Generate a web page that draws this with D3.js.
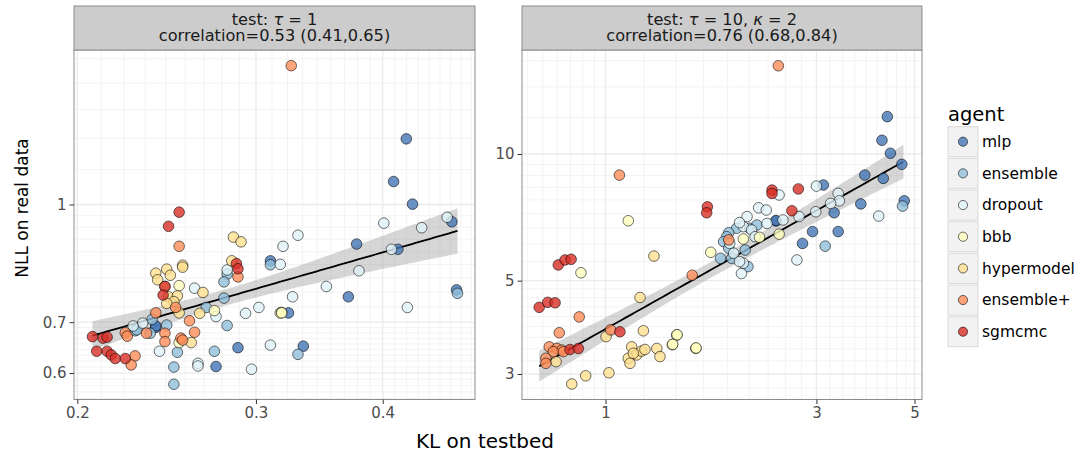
<!DOCTYPE html>
<html>
<head>
<meta charset="utf-8">
<script src="https://cdn.jsdelivr.net/npm/d3@7"></script>
<style>
body { margin: 0; background: #fff; }
text { font-family: "DejaVu Sans", sans-serif; }
</style>
</head>
<body>
<svg id="vis" width="1084" height="457"></svg>
<script>
// agents and colours
var agents = ["mlp", "ensemble", "dropout", "bbb", "hypermodel", "ensemble+", "sgmcmc"];
var agentColors = ["#4575b4", "#91bfdb", "#e0f3f8", "#ffffbf", "#fee090", "#fc8d59", "#d73027"];

// facet titles
var stripLine1 = [["test: ", "τ", " = 1"], ["test: ", "τ", " = 10, ", "κ", " = 2"]];
var stripLine2 = ["correlation=0.53 (0.41,0.65)", "correlation=0.76 (0.68,0.84)"];

// tick labels
var leftXTicks = [0.2, 0.3, 0.4];
var leftYTicks = [0.6, 0.7, 1];
var rightXTicks = [1, 3, 5];
var rightYTicks = [3, 5, 10];

// panel 1: test tau = 1   [KL on testbed, NLL on real data]
var t1_mlp = [[0.422,1.220],[0.410,1.072],[0.428,1.001],[0.468,0.949],[0.377,0.887],[0.414,0.873],[0.310,0.843],[0.473,0.772],[0.370,0.756],[0.323,0.720],[0.239,0.689],[0.239,0.692],[0.274,0.612],[0.288,0.648],[0.334,0.651]];
var t1_ensemble = [[0.310,0.833],[0.281,0.810],[0.279,0.791],[0.474,0.764],[0.279,0.753],[0.268,0.732],[0.281,0.693],[0.237,0.706],[0.236,0.677],[0.228,0.682],[0.229,0.684],[0.245,0.694],[0.251,0.639],[0.249,0.611],[0.249,0.580],[0.273,0.641],[0.330,0.635]];
var t1_dropout = [[0.401,0.945],[0.437,0.932],[0.463,0.962],[0.330,0.911],[0.319,0.881],[0.408,0.873],[0.317,0.834],[0.281,0.820],[0.379,0.818],[0.352,0.780],[0.261,0.776],[0.326,0.756],[0.274,0.712],[0.293,0.719],[0.302,0.732],[0.423,0.732],[0.232,0.698],[0.227,0.692],[0.241,0.641],[0.263,0.618],[0.263,0.613],[0.310,0.653],[0.297,0.607]];
var t1_bbb = [[0.252,0.782],[0.273,0.725],[0.317,0.720],[0.318,0.721],[0.318,0.720],[0.252,0.658]];
var t1_hypermodel = [[0.285,0.906],[0.290,0.893],[0.254,0.832],[0.254,0.827],[0.284,0.843],[0.239,0.812],[0.245,0.822],[0.247,0.807],[0.240,0.796],[0.244,0.780],[0.266,0.766],[0.246,0.756],[0.251,0.758],[0.249,0.745],[0.245,0.741],[0.252,0.720],[0.264,0.719],[0.259,0.658]];
var t1_ensemble_plus = [[0.325,1.523],[0.252,0.881],[0.288,0.803],[0.250,0.732],[0.239,0.720],[0.223,0.678],[0.224,0.671],[0.234,0.677],[0.244,0.677],[0.244,0.660],[0.258,0.703],[0.261,0.679],[0.253,0.667],[0.254,0.663],[0.228,0.632],[0.226,0.615]];
var t1_sgmcmc = [[0.252,0.977],[0.246,0.936],[0.287,0.836],[0.288,0.823],[0.244,0.780],[0.243,0.760],[0.207,0.670],[0.212,0.667],[0.214,0.669],[0.209,0.641],[0.214,0.641],[0.216,0.634],[0.218,0.627],[0.223,0.627]];
// fitted line ends
var t1_fit = [[0.207, 0.672], [0.474, 0.923]];

// panel 2: test tau = 10, kappa = 2
var t10_mlp = [[4.34,12.27],[4.22,10.78],[4.41,10.04],[4.68,9.45],[3.86,8.91],[4.25,8.75],[3.11,8.44],[4.74,7.74],[3.78,7.61],[3.29,7.25],[2.43,6.93],[2.43,6.95],[2.94,6.54],[3.36,6.54],[2.79,6.13]];
var t10_ensemble = [[4.70,7.52],[3.14,6.04],[1.98,6.66],[1.90,6.50],[1.88,6.36],[1.85,6.19],[1.90,5.97],[1.82,5.65],[1.93,5.65],[2.10,5.40],[2.12,6.66],[2.20,6.78],[2.07,5.91]];
var t10_dropout = [[2.32,6.84],[2.05,6.72],[1.91,6.13],[1.95,5.81],[2.05,5.50],[2.14,6.60],[2.18,6.36],[2.47,7.99],[3.00,8.39],[3.36,8.06],[3.38,7.74],[3.23,7.63],[4.15,7.12],[2.22,7.45],[2.31,7.36],[2.99,7.29],[2.74,7.10],[2.52,6.97],[2.09,7.10],[2.01,6.87],[2.71,5.60],[2.03,5.20],[2.01,5.55]];
var t10_bbb = [[1.126,6.94],[2.47,6.45],[2.05,6.28],[2.23,6.34],[1.73,5.84],[0.880,5.22],[1.449,3.71],[1.452,3.72],[1.416,3.52],[1.419,3.53],[1.600,3.45],[1.603,3.46]];
var t10_hypermodel = [[1.287,5.72],[1.197,4.56],[1.003,3.68],[1.218,3.80],[1.146,3.48],[1.176,3.33],[1.207,3.40],[1.228,3.43],[1.126,3.27],[1.136,3.18],[1.306,3.45],[1.328,3.30],[1.156,3.36],[0.773,3.21],[0.839,2.84],[0.902,2.97],[1.018,3.02]];
var t10_ensemble_plus = [[2.46,16.21],[1.075,8.91],[1.90,6.25],[1.571,5.15],[0.872,4.10],[0.786,3.76],[1.027,3.82],[0.746,3.48],[0.776,3.45],[0.796,3.42],[0.762,3.39],[0.803,3.39],[0.733,3.27],[0.733,3.18]];
var t10_sgmcmc = [[2.38,8.21],[2.38,8.06],[2.73,8.26],[1.70,7.49],[1.694,7.25],[2.64,7.33],[0.782,5.45],[0.810,5.60],[0.836,5.62],[0.708,4.32],[0.740,4.44],[0.769,4.43],[1.078,3.78],[0.831,3.43],[0.868,3.45]];
var t10_fit = [[0.708, 3.13], [4.72, 9.59]];

var t1_groups = [t1_mlp, t1_ensemble, t1_dropout, t1_bbb, t1_hypermodel, t1_ensemble_plus, t1_sgmcmc];
var t10_groups = [t10_mlp, t10_ensemble, t10_dropout, t10_bbb, t10_hypermodel, t10_ensemble_plus, t10_sgmcmc];

var svg = d3.select("#vis");
var color = d3.scaleOrdinal().domain(agents).range(agentColors);

var panelTop = 50, panelBottom = 399.5, stripTop = 6;

var panels = [
    {groups: t1_groups, fit: t1_fit, xDomain: [0.1985, 0.4932], yDomain: [0.5538, 1.597], left: 74, right: 475,
     xTicks: leftXTicks, yTicks: leftYTicks, xGrid: [0.1, 0.2, 0.3, 0.4, 0.5], yGrid: [0.5, 0.6, 0.7, 1, 2]},
    {groups: t10_groups, fit: t10_fit, xDomain: [0.6473, 5.199], yDomain: [2.609, 17.67], left: 522, right: 922,
     xTicks: rightXTicks, yTicks: rightYTicks, xGrid: [0.5, 1, 3, 5, 10], yGrid: [1, 3, 5, 10, 30]}
];

// minor lines: 8 evenly spaced values between each pair of majors
function minorLines(majors) {
    var out = [];
    for (var i = 0; i < majors.length - 1; i++) {
        var a = majors[i], b = majors[i + 1];
        for (var k = 1; k < 9; k++) out.push(a + (b - a) * k / 9);
    }
    return out;
}

// line through the read fit ends (log-log), 95% band from the points around it
function fitBand(points, fit) {
    var xs = points.map(function(p) { return Math.log(p[0]); });
    var ys = points.map(function(p) { return Math.log(p[1]); });
    var n = xs.length;
    var lx0 = Math.log(fit[0][0]), lx1 = Math.log(fit[1][0]);
    var ly0 = Math.log(fit[0][1]), ly1 = Math.log(fit[1][1]);
    var b = (ly1 - ly0) / (lx1 - lx0), a = ly0 - b * lx0;
    var mx = d3.mean(xs);
    var sxx = d3.sum(xs, function(x) { return (x - mx) * (x - mx); });
    var sse = d3.sum(xs, function(x, i) { var r = ys[i] - a - b * x; return r * r; });
    var s = Math.sqrt(sse / (n - 2));
    var t = 1.984;
    var out = [];
    for (var j = 0; j <= 80; j++) {
        var x = lx0 + (lx1 - lx0) * j / 80;
        var yhat = a + b * x;
        var se = s * Math.sqrt(1 / n + (x - mx) * (x - mx) / sxx);
        out.push({x: Math.exp(x), y: Math.exp(yhat), y0: Math.exp(yhat - t * se), y1: Math.exp(yhat + t * se)});
    }
    return out;
}

panels.forEach(function(p, pi) {
    var x = d3.scaleLog().domain(p.xDomain).range([p.left, p.right]);
    var y = d3.scaleLog().domain(p.yDomain).range([panelBottom, panelTop]);
    var g = svg.append("g");
    var clipId = "clip" + pi;
    g.append("clipPath").attr("id", clipId).append("rect")
        .attr("x", p.left).attr("y", panelTop).attr("width", p.right - p.left).attr("height", panelBottom - panelTop);

    var grid = g.append("g").attr("clip-path", "url(#" + clipId + ")");
    grid.selectAll(".vminor").data(minorLines(p.xGrid)).enter().append("line")
        .attr("x1", function(d) { return x(d); }).attr("x2", function(d) { return x(d); })
        .attr("y1", panelTop).attr("y2", panelBottom)
        .attr("stroke", "#f3f3f3").attr("stroke-width", 1);
    grid.selectAll(".hminor").data(minorLines(p.yGrid)).enter().append("line")
        .attr("y1", function(d) { return y(d); }).attr("y2", function(d) { return y(d); })
        .attr("x1", p.left).attr("x2", p.right)
        .attr("stroke", "#f3f3f3").attr("stroke-width", 1);
    grid.selectAll(".vmajor").data(p.xTicks).enter().append("line")
        .attr("x1", function(d) { return x(d); }).attr("x2", function(d) { return x(d); })
        .attr("y1", panelTop).attr("y2", panelBottom)
        .attr("stroke", "#ebebeb").attr("stroke-width", 1.3);
    grid.selectAll(".hmajor").data(p.yTicks).enter().append("line")
        .attr("y1", function(d) { return y(d); }).attr("y2", function(d) { return y(d); })
        .attr("x1", p.left).attr("x2", p.right)
        .attr("stroke", "#ebebeb").attr("stroke-width", 1.3);

    // smooth
    var all = [];
    p.groups.forEach(function(arr) { all = all.concat(arr); });
    var band = fitBand(all, p.fit);
    g.append("path").datum(band)
        .attr("fill", "#999999").attr("fill-opacity", 0.4)
        .attr("d", d3.area().x(function(d) { return x(d.x); })
            .y0(function(d) { return y(d.y0); }).y1(function(d) { return y(d.y1); }));
    g.append("path").datum(band)
        .attr("fill", "none").attr("stroke", "#000").attr("stroke-width", 1.8)
        .attr("d", d3.line().x(function(d) { return x(d.x); }).y(function(d) { return y(d.y); }));

    // points
    var pts = [];
    p.groups.forEach(function(arr, ai) {
        arr.forEach(function(d) { pts.push({x: d[0], y: d[1], agent: agents[ai]}); });
    });
    g.append("g").attr("clip-path", "url(#" + clipId + ")")
        .selectAll("circle").data(pts).enter().append("circle")
        .attr("cx", function(d) { return x(d.x); })
        .attr("cy", function(d) { return y(d.y); })
        .attr("r", 5.3)
        .attr("fill", function(d) { return color(d.agent); })
        .attr("fill-opacity", 0.8)
        .attr("stroke", "#000").attr("stroke-opacity", 0.7).attr("stroke-width", 0.8);

    // border
    g.append("rect").attr("x", p.left).attr("y", panelTop)
        .attr("width", p.right - p.left).attr("height", panelBottom - panelTop)
        .attr("fill", "none").attr("stroke", "#8c8c8c").attr("stroke-width", 1);

    // strip
    g.append("rect").attr("x", p.left).attr("y", stripTop)
        .attr("width", p.right - p.left).attr("height", panelTop - stripTop)
        .attr("fill", "#cccccc").attr("stroke", "#8c8c8c").attr("stroke-width", 1);
    var cx = (p.left + p.right) / 2;
    var t1 = g.append("text").attr("x", cx).attr("y", 25).attr("text-anchor", "middle")
        .attr("font-size", 16.2).attr("fill", "#1a1a1a");
    stripLine1[pi].forEach(function(s) {
        var ts = t1.append("tspan").text(s);
        if (s === "τ" || s === "κ") ts.attr("font-style", "italic");
    });
    g.append("text").attr("x", cx).attr("y", 40.5).attr("text-anchor", "middle")
        .attr("font-size", 16.2).attr("fill", "#1a1a1a").text(stripLine2[pi]);

    // axes
    var xAxis = d3.axisBottom(x).tickValues(p.xTicks).tickSize(4.5).tickPadding(3)
        .tickFormat(function(d) { return d3.format("~g")(d); });
    var xa = g.append("g").attr("transform", "translate(0," + panelBottom + ")").call(xAxis);
    var yAxis = d3.axisLeft(y).tickValues(p.yTicks).tickSize(4.5).tickPadding(3)
        .tickFormat(function(d) { return d3.format("~g")(d); });
    var ya = g.append("g").attr("transform", "translate(" + p.left + ",0)").call(yAxis);
    [xa, ya].forEach(function(a) {
        a.select(".domain").remove();
        a.selectAll(".tick line").attr("stroke", "#333333");
        a.selectAll(".tick text").attr("fill", "#4d4d4d").attr("font-size", 15)
            .attr("font-family", "DejaVu Sans");
    });
});

// axis titles
svg.append("text").attr("x", 485).attr("y", 448).attr("text-anchor", "middle")
    .attr("font-size", 20).attr("fill", "#000").text("KL on testbed");
svg.append("text").attr("transform", "translate(28,208) rotate(-90)").attr("text-anchor", "middle")
    .attr("font-size", 17).attr("fill", "#000").text("NLL on real data");

// legend
var lg = svg.append("g").attr("transform", "translate(948,0)");
lg.append("text").attr("x", 0).attr("y", 121).attr("font-size", 19.5).attr("fill", "#000").text("agent");
var rows = lg.selectAll(".row").data(agents).enter().append("g")
    .attr("transform", function(d, i) { return "translate(0," + (126.7 + i * 31.67) + ")"; });
rows.append("rect").attr("width", 30).attr("height", 30)
    .attr("fill", "#f2f2f2").attr("stroke", "#d9d9d9").attr("stroke-width", 1);
rows.append("circle").attr("cx", 15).attr("cy", 15).attr("r", 4.6)
    .attr("fill", function(d) { return color(d); }).attr("fill-opacity", 0.8)
    .attr("stroke", "#000").attr("stroke-opacity", 0.7).attr("stroke-width", 0.8);
rows.append("text").attr("x", 34).attr("y", 15).attr("dy", "0.35em")
    .attr("font-size", 15.5).attr("fill", "#000").text(function(d) { return d; });
</script>
</body>
</html>
